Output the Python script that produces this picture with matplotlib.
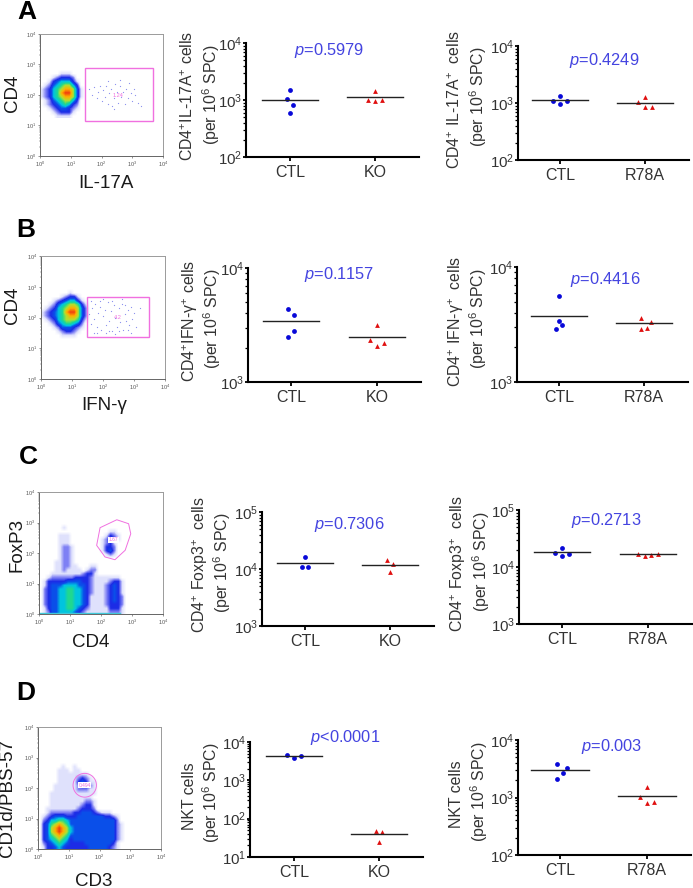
import numpy as np
import matplotlib
matplotlib.use("Agg")
import matplotlib.pyplot as plt
from matplotlib.colors import LinearSegmentedColormap
from matplotlib.patches import Ellipse, Polygon, Rectangle

#########################################################################################################
#! Dot plot values

A_KO_CTL     = [1510, 1055, 806, 600]
A_KO_KO      = [1440, 1013, 947, 1013]
A_KO_MEAN    = [1000, 1130]
A_R78_CTL    = [1335, 1090, 1090, 942]
A_R78_MUT    = [1250, 1035, 858, 858]
A_R78_MEAN   = [1120, 1000]

B_KO_CTL     = [4365, 3900, 2780, 2500]
B_KO_KO      = [3140, 2350, 2200, 2055]
B_KO_MEAN    = [3400, 2465]
B_R78_CTL    = [5570, 3400, 3110, 2910]
B_R78_MUT    = [3580, 3350, 2965, 2890]
B_R78_MEAN   = [3775, 3240]

C_KO_CTL     = [16100, 10900, 10900]
C_KO_KO      = [14300, 12000, 8900]
C_KO_MEAN    = [12800, 11800]
C_R78_CTL    = [21600, 17900, 17200, 15900]
C_R78_MUT    = [16700, 15400, 16500, 17000]
C_R78_MEAN   = [18100, 16700]

D_KO_CTL     = [4650, 3810, 4390]
D_KO_KO      = [47, 44, 24]
D_KO_MEAN    = [4300, 40]
D_R78_CTL    = [3770, 3200, 2620, 2140]
D_R78_MUT    = [1515, 1015, 851, 807]
D_R78_MEAN   = [2960, 1070]

# side step of every point from the group centre, in marker slots
A_KO_CTL_X   = [0, -1, 1, 0]
A_KO_KO_X    = [0, -2, 0, 2]
A_R78_CTL_X  = [0, -2, 2, 0]
A_R78_MUT_X  = [0, -2, 0, 2]
B_KO_CTL_X   = [-1, 1, 1, -1]
B_KO_KO_X    = [0, -2, 2, 0]
B_R78_CTL_X  = [0, 0, 1, -1]
B_R78_MUT_X  = [-1, 2, 1, -1]
C_KO_CTL_X   = [0, -1, 1]
C_KO_KO_X    = [-1, 1, 0]
C_R78_CTL_X  = [0, -2, 2, 0]
C_R78_MUT_X  = [-3, -1, 1, 3]
D_KO_CTL_X   = [-2, 0, 2]
D_KO_KO_X    = [-1, 1, 0]
D_R78_CTL_X  = [-1, 2, 1, -1]
D_R78_MUT_X  = [0, -2, 2, 0]

P_VALUES     = ["=0.5979", "=0.4249", "=0.1157", "=0.4416", "=0.7306", "=0.2713", "<0.0001", "=0.003"]

#! Flow plots: colour level per 1/8 decade (0 = empty, 9 = densest), top row first

A_DENSITY = [
    "000000000000",
    "000000000000",
    "000001110000",
    "000123332000",
    "001345553100",
    "012456775300",
    "123567887410",
    "123568997410",
    "123567887410",
    "012456775300",
    "012345653200",
    "001234432100",
    "000123331000",
    "000011110000",
]

B_DENSITY = [
    "0000000000000",
    "0000000100000",
    "0000012331000",
    "0001234553100",
    "0012456776310",
    "0123567887420",
    "1234568997420",
    "1234567887420",
    "0123567776310",
    "0012456654200",
    "0001244432100",
    "0000123321000",
    "0000011110000",
    "0000000000000",
]

C_DENSITY = [
    "000000000000000000000000",
    "000000100000000000000000",
    "000000000000000000110000",
    "000001110000000001321000",
    "000001110000000012431000",
    "000001110000000012310000",
    "000001221000000013320000",
    "000001221000000013420000",
    "000001221000000001210000",
    "000001221000000000000000",
    "000011221000000000000000",
    "000011221100011000000000",
    "000011211110122000000000",
    "000111111112331000000000",
    "001222222333321111111000",
    "013333344443321111233100",
    "013444555544321112343100",
    "023445566554321112343100",
    "023445566554321112343100",
    "023445566554311112343200",
    "023445566554311112343200",
    "023445566554311112333200",
    "013445566543211111333100",
    "012445555432111111222100",
]

D_DENSITY = [
    "000000000000000000000000",
    "000000000000000000000000",
    "000000100100000000000000",
    "000001110110000000000000",
    "000001111111100000000000",
    "000001111123210000000000",
    "000001111134311000000000",
    "000011111123321000000000",
    "000011111122211000000000",
    "000111111111111000000000",
    "000111111111110000000000",
    "000111111111221000000000",
    "000111111112331000000000",
    "001111111123332000000000",
    "001222222334443211100000",
    "012344433344444443321000",
    "023556654444444444442000",
    "034678764444444444442100",
    "034789875444444444442100",
    "034789875444444444442100",
    "034678764444444444442100",
    "034567653444444444442100",
    "023456543333444444431000",
    "013345433333344444321000",
]

# sparse events inside the rectangular gates (log10 units)
A_SPARSE_X = [1.6, 1.7, 1.75, 1.85, 1.9, 1.95, 2.0, 2.05, 2.1, 2.15, 2.2, 2.25, 2.3, 2.35, 2.4, 2.45, 2.5,
              2.55, 2.6, 2.65, 2.7, 2.75, 2.8, 2.85, 2.9, 2.95, 3.0, 3.05, 3.1, 3.2, 3.3, 2.2, 2.4, 2.6]
A_SPARSE_Y = [2.2, 2.0, 2.25, 1.9, 2.1, 2.3, 1.8, 2.15, 1.95, 2.3, 1.7, 2.05, 2.2, 1.65, 1.9, 2.35, 2.1,
              1.75, 2.3, 1.95, 2.1, 1.7, 2.2, 1.9, 2.4, 2.05, 1.8, 2.2, 2.0, 1.75, 1.65, 2.45, 1.55, 2.5]
B_SPARSE_X = [1.55, 1.6, 1.65, 1.7, 1.75, 1.8, 1.85, 1.9, 1.95, 2.0, 2.05, 2.1, 2.15, 2.2, 2.25, 2.3, 2.35,
              2.4, 2.45, 2.5, 2.55, 2.6, 2.65, 2.7, 2.75, 2.8, 2.85, 2.9, 2.95, 3.0, 3.05, 3.2, 1.7, 1.9, 2.1,
              2.3, 2.5, 2.7, 2.9, 1.6, 1.8, 2.0, 2.2, 2.4, 2.6, 2.8]
B_SPARSE_Y = [2.1, 1.8, 2.3, 1.95, 2.45, 1.7, 2.15, 2.35, 1.6, 2.05, 2.25, 1.75, 2.5, 1.9, 2.2, 1.55, 2.4,
              2.0, 1.7, 2.3, 1.85, 2.45, 1.6, 2.1, 1.9, 2.25, 1.75, 2.35, 1.95, 2.15, 1.7, 2.3, 1.5, 2.55, 1.5,
              2.55, 1.55, 2.4, 1.5, 2.55, 1.5, 2.6, 1.55, 1.45, 2.6, 1.6]

# gates
A_GATE = (1.47, 1.16, 3.67, 2.87)
B_GATE = (1.49, 1.36, 3.47, 2.68)
C_GATE = [(1.97, 2.83), (2.51, 3.09), (2.89, 2.96), (2.96, 2.63), (2.78, 2.09), (2.45, 1.78), (2.13, 1.87), (1.86, 2.25)]
D_GATE = (1.52, 2.09, 0.76, 0.78)
GATE_LABELS = ["1.24", "4.2", "1.67", "0.494"]
FLOW_DECADES = [0, 1, 2, 3, 4]

#########################################################################################################
#! Layout and style

WIDTH, HEIGHT = 693, 888
TEXT_COLOR = "#333333"
BLUE       = "#0808d8"
RED        = "#e01010"
P_BLUE     = "#4444e0"
PINK       = "#f070e0"
SLOT       = 0.04    # one marker slot in x units
HALF_LINE  = 0.33    # half length of the mean line

plt.rcParams["font.family"] = ["Liberation Sans", "DejaVu Sans"]
plt.rcParams["mathtext.fontset"] = "custom"
plt.rcParams["mathtext.rm"] = "Liberation Sans"
plt.rcParams["mathtext.it"] = "Liberation Sans:italic"
plt.rcParams["mathtext.bf"] = "Liberation Sans:bold"

flow_cmap = LinearSegmentedColormap.from_list("flow", [
    "#ffffff", "#dfe1fc", "#7c7ef4", "#1c2ce6", "#0a50ea",
    "#00c4e0", "#20d890", "#b0e030", "#ffb000", "#f04010"])

fig = plt.figure(figsize=(WIDTH / 100, HEIGHT / 100), dpi=100)


# axes from pixel box, y counted from the top like in the reference
def px_axes(left, top, right, bottom):
    return fig.add_axes([left / WIDTH, 1 - bottom / HEIGHT, (right - left) / WIDTH, (bottom - top) / HEIGHT])


def px_text(x, y, s, **kw):
    kw.setdefault("color", TEXT_COLOR)
    kw.setdefault("ha", "center")
    kw.setdefault("va", "center")
    fig.text(x / WIDTH, 1 - y / HEIGHT, s, **kw)


def density_image(ax, rows, extent):
    levels = np.array([[int(c) for c in row] for row in rows], dtype=float)
    ax.imshow(levels, extent=extent, origin="upper", aspect="auto", cmap=flow_cmap,
              vmin=0, vmax=9, interpolation="bilinear", zorder=1)


def flow_axes(box):
    ax = px_axes(*box)
    ax.set_xlim(0, 4)
    ax.set_ylim(0, 4)
    for side, spine in ax.spines.items():
        spine.set_linewidth(0.7)
        spine.set_color("#9a9a9a" if side in ("top", "right") else "#666666")
    minor = [d + np.log10(m) for d in FLOW_DECADES[:-1] for m in range(2, 10)]
    for axis in (ax.xaxis, ax.yaxis):
        axis.set_ticks(FLOW_DECADES)
        axis.set_ticks(minor, minor=True)
        axis.set_ticklabels([f"$10^{{{d}}}$" for d in FLOW_DECADES])
    ax.tick_params(which="major", length=1.5, width=0.4, labelsize=4, pad=1.5, labelcolor="#555555", color="#444444")
    ax.tick_params(which="minor", length=0.8, width=0.3, color="#444444")
    return ax


def dot_panel(box, tick_x, ylim, decades, ctl, ctl_x, mut, mut_x, means, mut_name):
    left, top, right, bottom = box
    ax = px_axes(left, top, right, bottom)
    spacing = tick_x[1] - tick_x[0]
    ax.set_xlim(1 + (left - tick_x[0]) / spacing, 1 + (right - tick_x[0]) / spacing)
    ax.set_yscale("log")
    ax.set_ylim(*ylim)

    ax.scatter(1 + SLOT * np.array(ctl_x), ctl, s=12, marker="o", color=BLUE, linewidths=0, zorder=3)
    ax.scatter(2 + SLOT * np.array(mut_x), mut, s=12, marker="^", color=RED, linewidths=0, zorder=3)
    for pos, mean in zip([1, 2], means):
        ax.plot([pos - HALF_LINE, pos + HALF_LINE], [mean, mean], color="#222222", lw=1.0, zorder=4)

    ax.spines[["top", "right"]].set_visible(False)
    ax.spines[["left", "bottom"]].set_linewidth(1.5)
    ax.set_xticks([1, 2], ["CTL", mut_name])
    ax.set_yticks(decades, [f"$10^{{{int(np.log10(d))}}}$" for d in decades])
    ax.set_yticks([d * m for d in decades[:-1] for m in range(2, 10)], minor=True)
    ax.set_yticklabels([], minor=True)
    ax.tick_params(axis="x", length=3, width=1.3, labelsize=11.5, pad=3, labelcolor=TEXT_COLOR)
    ax.tick_params(axis="y", which="major", length=2.5, width=1.3, labelsize=10.8, pad=0, labelcolor=TEXT_COLOR)
    ax.tick_params(axis="y", which="minor", length=2, width=0.9)
    return ax


#########################################################################################################
#! Flow plots

ax = flow_axes((40, 34, 163, 156))
density_image(ax, A_DENSITY, (0, 1.5, 1.25, 3.0))
ax.set_xlim(0, 4)
ax.set_ylim(0, 4)
ax.scatter(A_SPARSE_X, A_SPARSE_Y, s=0.8, color="#8a90ee", linewidths=0, zorder=2)
ax.add_patch(Rectangle(A_GATE[:2], A_GATE[2] - A_GATE[0], A_GATE[3] - A_GATE[1], fill=False, ec=PINK, lw=1.0, zorder=3))
ax.text(2.55, 1.99, GATE_LABELS[0], color=PINK, fontsize=4, ha="center", va="center", zorder=4)

ax = flow_axes((41, 256, 165, 379))
density_image(ax, B_DENSITY, (0, 1.625, 1.25, 3.0))
ax.set_xlim(0, 4)
ax.set_ylim(0, 4)
ax.scatter(B_SPARSE_X, B_SPARSE_Y, s=0.8, color="#8a90ee", linewidths=0, zorder=2)
ax.add_patch(Rectangle(B_GATE[:2], B_GATE[2] - B_GATE[0], B_GATE[3] - B_GATE[1], fill=False, ec=PINK, lw=1.0, zorder=3))
ax.text(2.46, 2.01, GATE_LABELS[1], color=PINK, fontsize=4, ha="center", va="center", zorder=4)

ax = flow_axes((39, 492, 163, 614))
density_image(ax, C_DENSITY, (0, 3, 0, 3))
ax.set_xlim(0, 4)
ax.set_ylim(0, 4)
ax.plot([0, 2.6], [0.02, 0.02], color="#40c8d8", lw=1.0, zorder=2)
ax.add_patch(Polygon(C_GATE, closed=True, fill=False, ec=PINK, lw=0.7, zorder=3))
ax.text(2.41, 2.43, GATE_LABELS[2], color=PINK, fontsize=3.5, ha="center", va="center", zorder=4,
        bbox=dict(fc="white", ec="none", pad=0.4))

ax = flow_axes((38, 727, 161, 849))
density_image(ax, D_DENSITY, (0, 3, 0, 3))
ax.set_xlim(0, 4)
ax.set_ylim(0, 4)
ax.add_patch(Ellipse(D_GATE[:2], D_GATE[2], D_GATE[3], fill=False, ec=PINK, lw=0.7, zorder=3))
ax.text(D_GATE[0], D_GATE[1], GATE_LABELS[3], color=PINK, fontsize=3.5, ha="center", va="center", zorder=4,
        bbox=dict(fc="white", ec="none", pad=0.3))

#! Dot plots

LOW_A, LOW_B = (1e2, 1e4), (1e3, 1e4)
dot_panel((246, 43, 419, 157), (290, 375), LOW_A, [1e2, 1e3, 1e4], A_KO_CTL, A_KO_CTL_X, A_KO_KO, A_KO_KO_X, A_KO_MEAN, "KO")
dot_panel((518, 46, 689, 160), (560, 645), LOW_A, [1e2, 1e3, 1e4], A_R78_CTL, A_R78_CTL_X, A_R78_MUT, A_R78_MUT_X, A_R78_MEAN, "R78A")
dot_panel((248, 268, 421, 382), (291, 377), LOW_B, [1e3, 1e4], B_KO_CTL, B_KO_CTL_X, B_KO_KO, B_KO_KO_X, B_KO_MEAN, "KO")
dot_panel((517, 267, 688, 382), (559, 644), LOW_B, [1e3, 1e4], B_R78_CTL, B_R78_CTL_X, B_R78_MUT, B_R78_MUT_X, B_R78_MEAN, "R78A")
dot_panel((262, 512, 434, 626), (305, 390), (1e3, 1e5), [1e3, 1e4, 1e5], C_KO_CTL, C_KO_CTL_X, C_KO_KO, C_KO_KO_X, C_KO_MEAN, "KO")
dot_panel((519, 510, 692, 624), (562, 648), (1e3, 1e5), [1e3, 1e4, 1e5], C_R78_CTL, C_R78_CTL_X, C_R78_MUT, C_R78_MUT_X, C_R78_MEAN, "R78A")
dot_panel((250, 742, 423, 857), (294, 379), (1e1, 1e4), [1e1, 1e2, 1e3, 1e4], D_KO_CTL, D_KO_CTL_X, D_KO_KO, D_KO_KO_X, D_KO_MEAN, "KO")
dot_panel((518, 740, 691, 855), (560, 647), LOW_A, [1e2, 1e3, 1e4], D_R78_CTL, D_R78_CTL_X, D_R78_MUT, D_R78_MUT_X, D_R78_MEAN, "R78A")

#! Texts

P_XY = [(329, 50), (604, 60), (339, 274), (605, 279), (349, 525), (606, 520), (345, 737), (612, 746)]
for (x, y), p in zip(P_XY, P_VALUES):
    px_text(x, y, f"$\\mathit{{p}}${p}", color=P_BLUE, fontsize=11.8)

PER = "(per 10$^{6}$ SPC)"
YLABELS = [
    (188, 96, "CD4$^{+}$IL-17A$^{+}$ cells", 211, 95),
    (455, 99, "CD4$^{+}$ IL-17A$^{+}$  cells", 478, 97),
    (190, 321, "CD4$^{+}$IFN-γ$^{+}$ cells", 212, 319),
    (456, 321, "CD4$^{+}$ IFN-γ$^{+}$  cells", 478, 319),
    (200, 565, "CD4$^{+}$ Foxp3$^{+}$  cells", 222, 563),
    (458, 564, "CD4$^{+}$ Foxp3$^{+}$  cells", 481, 562),
    (189, 796, "NKT cells", 211, 793),
    (457, 794, "NKT cells", 479, 792),
]
for x1, y1, label, x2, y2 in YLABELS:
    px_text(x1, y1, label, rotation=90, fontsize=11.4)
    px_text(x2, y2, PER, rotation=90, fontsize=11.4)

FLOW_LABELS = [
    (106, 183, "IL-17A", 0), (13, 93, "CD4", 90),
    (104, 405, "IFN-γ", 0), (13, 305, "CD4", 90),
    (91, 642, "CD4", 0), (17, 545, "FoxP3", 90),
    (94, 881, "CD3", 0), (8, 798, "CD1d/PBS-57", 90),
]
for x, y, label, rot in FLOW_LABELS:
    px_text(x, y, label, rotation=rot, fontsize=13.5, color="#1a1a1a")

for x, y, letter in [(27, 12, "A"), (26, 230, "B"), (28, 457, "C"), (26, 693, "D")]:
    px_text(x, y, letter, fontsize=19, fontweight="bold", color="black")

fig.savefig("out.png", dpi=100)
